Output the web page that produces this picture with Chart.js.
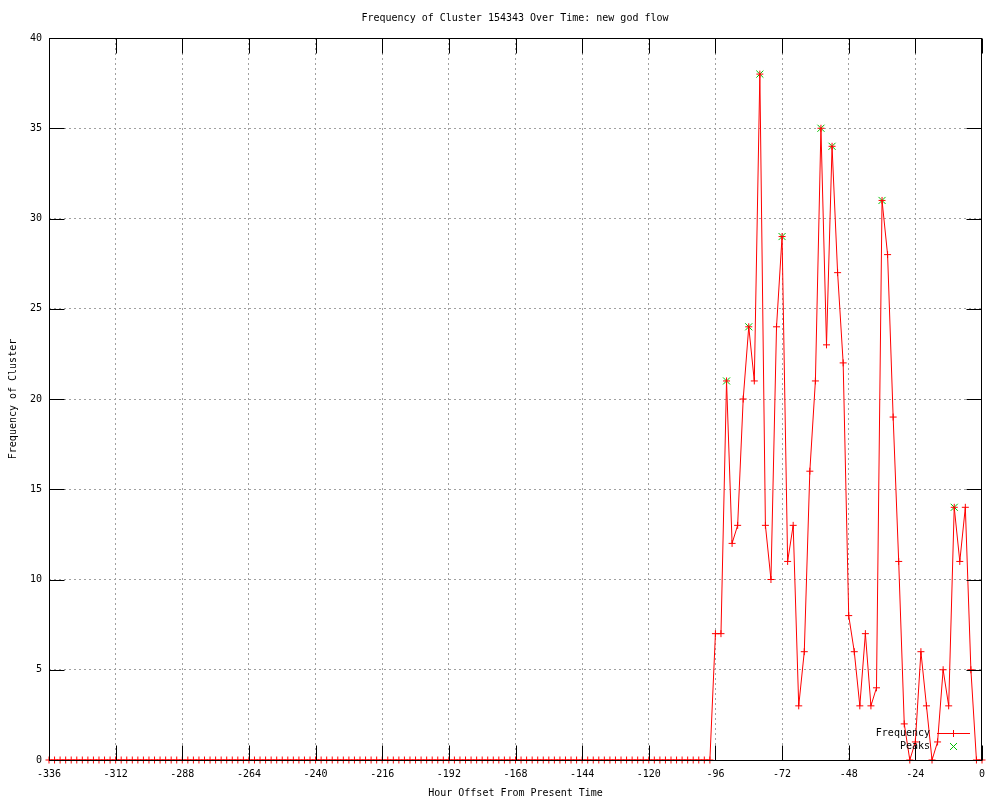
<!DOCTYPE html>
<html>
<head>
<meta charset="utf-8">
<script src="https://cdn.jsdelivr.net/npm/chart.js@4.4.1/dist/chart.umd.min.js"></script>
<style>
  html, body { margin: 0; padding: 0; background: #fff; }
  #chart-container { width: 1000px; height: 800px; }
</style>
</head>
<body>
<div id="chart-container"><canvas id="freq-chart" width="1000" height="800"></canvas></div>
<script>
// Datos (una muestra cada 2 horas)
const startHour = -336;
const stepHours = 2;
const frequency = [
  0, 0, 0, 0, 0, 0, 0, 0, 0, 0, 0, 0,
  0, 0, 0, 0, 0, 0, 0, 0, 0, 0, 0, 0,
  0, 0, 0, 0, 0, 0, 0, 0, 0, 0, 0, 0,
  0, 0, 0, 0, 0, 0, 0, 0, 0, 0, 0, 0,
  0, 0, 0, 0, 0, 0, 0, 0, 0, 0, 0, 0,
  0, 0, 0, 0, 0, 0, 0, 0, 0, 0, 0, 0,
  0, 0, 0, 0, 0, 0, 0, 0, 0, 0, 0, 0,
  0, 0, 0, 0, 0, 0, 0, 0, 0, 0, 0, 0,
  0, 0, 0, 0, 0, 0, 0, 0, 0, 0, 0, 0,
  0, 0, 0, 0, 0, 0, 0, 0, 0, 0, 0, 0,
  7, 7, 21, 12, 13, 20, 24, 21, 38, 13,
  10, 24, 29, 11, 13, 3, 6, 16, 21, 35,
  23, 34, 27, 22, 8, 6, 3, 7, 3, 4,
  31, 28, 19, 11, 2, 0, 1, 6, 3, 0,
  1, 5, 3, 14, 11, 14, 5, 0, 0
];
const peakHours = [-92, -84, -80, -72, -58, -54, -36, -10];
const peakValues = [21, 24, 38, 29, 35, 34, 31, 14];

const xTickValues = [-336, -312, -288, -264, -240, -216, -192, -168, -144, -120, -96, -72, -48, -24, 0];
const yTickValues = [0, 5, 10, 15, 20, 25, 30, 35, 40];

const titleText = "Frequency of Cluster 154343 Over Time: new god flow";
const xTitle = "Hour Offset From Present Time";
const yTitle = "Frequency of Cluster";

const FONT = "'DejaVu Sans Mono', monospace";
const GRID_GRAY = "#a0a0a0";
const RED = "#ff0000";
const GREEN = "#00c000";

// Puntos de la serie
const freqPoints = frequency.map((v, i) => ({ x: startHour + i * stepHours, y: v }));
const peakPoints = peakHours.map((h, i) => ({ x: h, y: peakValues[i] }));

// Marco, marcas interiores, titulo y leyenda al estilo gnuplot
const gnuplotDeco = {
    id: "gnuplotDeco",
    afterDatasetsDraw(chart) {
        const ctx = chart.ctx;
        const a = chart.chartArea;
        const xs = chart.scales.x;
        const ys = chart.scales.y;
        const tickLen = 15;

        ctx.save();
        ctx.strokeStyle = "#000";
        ctx.lineWidth = 1;
        ctx.setLineDash([]);
        ctx.strokeRect(a.left + 0.5, a.top + 0.5, a.right - a.left - 1, a.bottom - a.top);

        ctx.beginPath();
        xTickValues.forEach(v => {
            const px = Math.round(xs.getPixelForValue(v)) + 0.5;
            ctx.moveTo(px, a.bottom + 0.5);
            ctx.lineTo(px, a.bottom + 0.5 - tickLen);
            ctx.moveTo(px, a.top + 0.5);
            ctx.lineTo(px, a.top + 0.5 + tickLen);
        });
        yTickValues.forEach(v => {
            const py = Math.round(ys.getPixelForValue(v)) + 0.5;
            ctx.moveTo(a.left + 0.5, py);
            ctx.lineTo(a.left + 0.5 + tickLen, py);
            ctx.moveTo(a.right - 0.5, py);
            ctx.lineTo(a.right - 0.5 - tickLen, py);
        });
        ctx.stroke();

        ctx.fillStyle = "#000";
        ctx.font = "10px " + FONT;
        ctx.textAlign = "center";
        ctx.textBaseline = "middle";
        ctx.fillText(titleText, 515, 18);

        // Leyenda
        ctx.textAlign = "right";
        ctx.fillText("Frequency", 930, 733);
        ctx.fillText("Peaks", 930, 746);

        ctx.strokeStyle = RED;
        ctx.beginPath();
        ctx.moveTo(937, 733.5);
        ctx.lineTo(970, 733.5);
        ctx.moveTo(953.5, 730);
        ctx.lineTo(953.5, 737);
        ctx.stroke();

        ctx.strokeStyle = GREEN;
        ctx.beginPath();
        ctx.moveTo(950, 743);
        ctx.lineTo(957, 750);
        ctx.moveTo(957, 743);
        ctx.lineTo(950, 750);
        ctx.stroke();
        ctx.restore();
    }
};

const canvas = document.getElementById("freq-chart");
const ctx = canvas.getContext("2d");

new Chart(ctx, {
    type: "line",
    data: {
        datasets: [{
            label: "Frequency",
            data: freqPoints,
            borderColor: RED,
            backgroundColor: RED,
            borderWidth: 1,
            pointStyle: "cross",
            pointRadius: 3.5,
            pointBorderWidth: 1,
            pointBorderColor: RED,
            tension: 0,
            clip: false,
            order: 1,
        }, {
            label: "Peaks",
            data: peakPoints,
            showLine: false,
            pointStyle: "crossRot",
            pointRadius: 5,
            pointBorderWidth: 1,
            pointBorderColor: GREEN,
            borderColor: GREEN,
            clip: false,
            order: 2,
        }],
    },
    options: {
        responsive: false,
        animation: false,
        devicePixelRatio: 1,
        layout: { padding: { top: 38, right: 18, left: 0, bottom: 0 } },
        plugins: {
            legend: { display: false },
            tooltip: { enabled: false },
            title: { display: false },
        },
        scales: {
            x: {
                type: "linear",
                min: -336,
                max: 0,
                afterBuildTicks: s => { s.ticks = xTickValues.map(v => ({ value: v })); },
                afterFit: s => { s.height = 40; },
                ticks: {
                    font: { family: FONT, size: 10 },
                    color: "#000",
                    padding: 8,
                    maxRotation: 0,
                    autoSkip: false,
                },
                grid: {
                    drawTicks: false,
                    color: c => (c.tick && (c.tick.value === -336 || c.tick.value === 0)) ? "rgba(0,0,0,0)" : GRID_GRAY,
                },
                border: { display: false, dash: [2, 3] },
                title: {
                    display: true,
                    text: xTitle,
                    font: { family: FONT, size: 10 },
                    color: "#000",
                    padding: { top: 0, bottom: 1 },
                },
            },
            y: {
                min: 0,
                max: 40,
                afterBuildTicks: s => { s.ticks = yTickValues.map(v => ({ value: v })); },
                afterFit: s => { s.width = 49; },
                ticks: {
                    font: { family: FONT, size: 10 },
                    color: "#000",
                    padding: 7,
                },
                grid: {
                    drawTicks: false,
                    color: c => (c.tick && (c.tick.value === 0 || c.tick.value === 40)) ? "rgba(0,0,0,0)" : GRID_GRAY,
                },
                border: { display: false, dash: [2, 3] },
                title: {
                    display: true,
                    text: yTitle,
                    font: { family: FONT, size: 10 },
                    color: "#000",
                    padding: { top: 7, bottom: 0 },
                },
            },
        },
    },
    plugins: [gnuplotDeco],
});
</script>
</body>
</html>
